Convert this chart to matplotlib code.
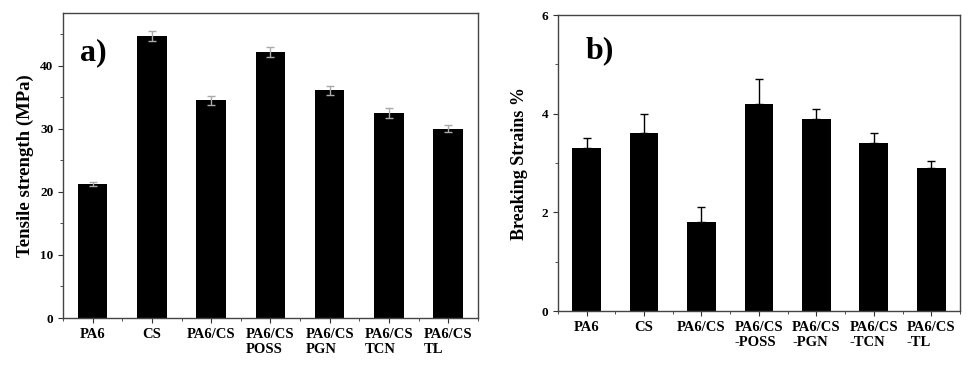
import matplotlib
matplotlib.use("Agg")
from matplotlib import pyplot as plt
from matplotlib.ticker import MultipleLocator

samples_a = ["PA6", "CS", "PA6/CS", "PA6/CS\nPOSS", "PA6/CS\nPGN", "PA6/CS\nTCN", "PA6/CS\nTL"]
tensile = [21.2, 44.7, 34.5, 42.2, 36.1, 32.5, 30.0]
tensile_err = [0.3, 0.8, 0.7, 0.8, 0.7, 0.8, 0.6]

samples_b = ["PA6", "CS", "PA6/CS", "PA6/CS\n-POSS", "PA6/CS\n-PGN", "PA6/CS\n-TCN", "PA6/CS\n-TL"]
strain = [3.3, 3.6, 1.8, 4.2, 3.9, 3.4, 2.9]
strain_err = [0.2, 0.4, 0.3, 0.5, 0.2, 0.2, 0.15]

plt.rcParams['font.family'] = ['Liberation Serif', 'DejaVu Serif']
plt.rcParams['font.weight'] = 'bold'

fig = plt.figure(figsize=(9.77, 3.66), dpi=100)
ax1 = fig.add_axes([0.0645, 0.131, 0.4245, 0.833])
ax2 = fig.add_axes([0.571, 0.150, 0.4116, 0.809])


def style(ax, labels):
    x = range(len(labels))
    ax.set_xlim(-0.5, len(labels) - 0.5)
    ax.set_xticks(list(x))
    ax.set_xticklabels(labels, fontsize=10.5, fontweight='bold', multialignment='left')
    ax.xaxis.set_minor_locator(MultipleLocator(0.5))
    ax.tick_params(which='both', direction='out', color='#333333')
    ax.tick_params(axis='y', labelsize=9.5)
    for s in ax.spines.values():
        s.set_color('#444444')
        s.set_linewidth(1.0)


x = range(len(samples_a))
ax1.bar(x, tensile, width=0.5, color='black')
ax1.errorbar(x, tensile, yerr=tensile_err, fmt='none', ecolor='#aaaaaa',
             elinewidth=1, capsize=3)
style(ax1, samples_a)
ax1.set_ylim(0, 48.3)
ax1.yaxis.set_major_locator(MultipleLocator(10))
ax1.yaxis.set_minor_locator(MultipleLocator(5))
ax1.set_ylabel("Tensile strength (MPa)", fontsize=13.5, fontweight='bold', labelpad=4)
ax1.text(0.04, 0.845, "a)", transform=ax1.transAxes, fontsize=23, fontweight='bold')

ax2.bar(x, strain, width=0.5, color='black')
ax2.errorbar(x, strain, yerr=[[0] * len(strain), strain_err], fmt='none', ecolor='black',
             elinewidth=1, capsize=3)
style(ax2, samples_b)
ax2.set_ylim(0, 6)
ax2.yaxis.set_major_locator(MultipleLocator(2))
ax2.yaxis.set_minor_locator(MultipleLocator(1))
ax2.set_ylabel("Breaking Strains %", fontsize=13, fontweight='bold', labelpad=10)
ax2.text(0.07, 0.855, "b)", transform=ax2.transAxes, fontsize=23, fontweight='bold')

fig.savefig("out.png", dpi=100)
